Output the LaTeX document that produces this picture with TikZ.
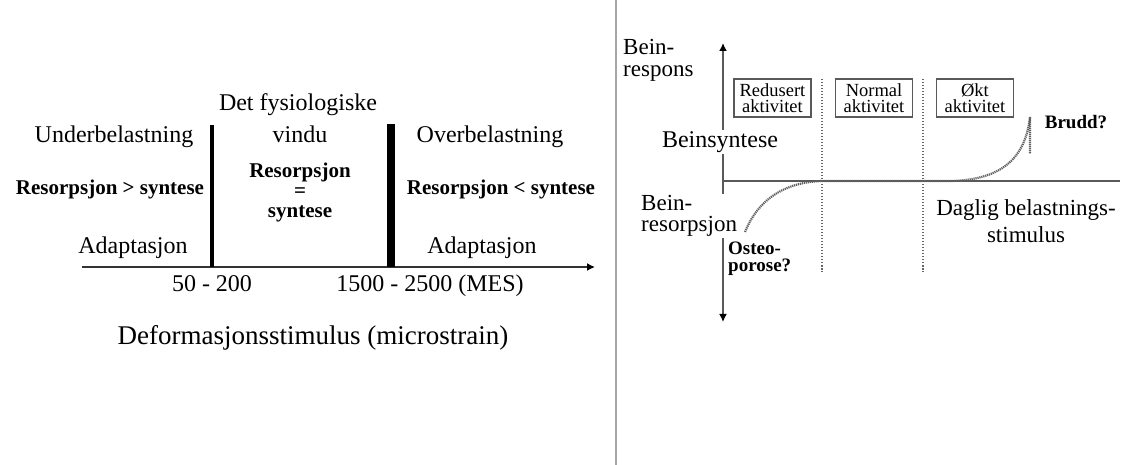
\documentclass[tikz,border=0pt]{standalone}
\usepackage{fontspec}
\setmainfont{Liberation Serif}
\usetikzlibrary{arrows.meta}
\begin{document}
\begin{tikzpicture}[x=1pt,y=-1pt,
  lbl/.style={inner sep=0pt,align=center,font=\fontsize{24}{26}\selectfont},
  blbl/.style={inner sep=0pt,align=center,font=\fontsize{21}{20}\selectfont\bfseries},
  boxlbl/.style={draw=gray!70!black,line width=1.6pt,inner sep=1pt,minimum width=77pt,minimum height=38pt,align=center,font=\fontsize{18.5}{16.5}\selectfont},
  axis/.style={line width=1.5pt,draw=black!80},
  raxis/.style={line width=1.8pt,draw=gray!70!black},
  dotl/.style={line width=1.8pt,draw=gray!80!black,dash pattern=on 1.5pt off 1.5pt},
  curve/.style={line width=2.2pt,draw=gray!75!black,dash pattern=on 1.2pt off 0.8pt},
  tip/.style={-{Latex[length=8pt,width=8pt,color=black]}}
]
\useasboundingbox (0,0) rectangle (1128,465);
% ---------- left panel ----------
\coordinate (ax0) at (82,267);
\coordinate (ax1) at (595,267);
\draw[axis,tip] (ax0) -- (ax1);
\coordinate (t0) at (212,125);
\coordinate (t1) at (212,267);
\draw[line width=3.5pt] (t0) -- (t1);
\coordinate (k0) at (391,124);
\coordinate (k1) at (391,267);
\draw[line width=7.5pt] (k0) -- (k1);
\node[lbl] (det) at (298,105) {Det fysiologiske};
\node[lbl] (vindu) at (300,134) {vindu};
\node[lbl] (under) at (114,137) {Underbelastning};
\node[lbl] (over) at (490,137) {Overbelastning};
\node[blbl] (rs1) at (110,189) {Resorpsjon > syntese};
\node[blbl,font=\fontsize{21}{20}\selectfont\bfseries] (rsm) at (300,192) {Resorpsjon\\=\\syntese};
\node[blbl] (rs2) at (501,189) {Resorpsjon < syntese};
\node[lbl] (ad1) at (133,248) {Adaptasjon};
\node[lbl] (ad2) at (482,248) {Adaptasjon};
\node[lbl,anchor=base] (n1) at (212,292) {50 - 200};
\node[lbl,anchor=base] (n2) at (430,292) {1500 - 2500 (MES)};
\node[inner sep=0pt,font=\fontsize{27}{30}\selectfont] (def) at (313,338) {Deformasjonsstimulus (microstrain)};
% ---------- divider ----------
\coordinate (d0) at (616,0);
\coordinate (d1) at (616,465);
\draw[line width=2pt,gray!70] (d0) -- (d1);
% ---------- right panel ----------
\coordinate (y0) at (723,43);
\coordinate (y1) at (723,322);
\draw[raxis,{Latex[length=8pt,width=8pt,color=black]}-{Latex[length=8pt,width=8pt,color=black]}] (y1) -- (y0);
\coordinate (h0) at (723,181);
\coordinate (h1) at (1120,181);
\draw[raxis] (h0) -- (h1);
\coordinate (v1a) at (822,79);
\coordinate (v1b) at (822,272);
\coordinate (v2a) at (923,79);
\coordinate (v2b) at (923,272);
\draw[dotl] (v1a) -- (v1b);
\draw[dotl] (v2a) -- (v2b);
\node[boxlbl] (red) at (772.5,98) {Redusert\\aktivitet};
\node[boxlbl] (nor) at (874,98) {Normal\\aktivitet};
\node[boxlbl] (okt) at (975,98) {Økt\\aktivitet};
\node[lbl,align=left,anchor=west,font=\fontsize{23}{22}\selectfont] (br) at (623,60) {Bein-\\respons};
\node[lbl,fill=white,inner sep=1pt] (syn) at (720,142) {Beinsyntese};
\node[lbl,align=left,anchor=west,fill=white,inner sep=1pt,font=\fontsize{23}{21}\selectfont] (res) at (640,216) {Bein-\\resorpsjon};
\node[blbl,align=left,anchor=west,font=\fontsize{19}{17}\selectfont\bfseries] (ost) at (728,259) {Osteo-\\porose?};
\node[blbl,font=\fontsize{19}{20}\selectfont\bfseries] (brudd) at (1076,122) {Brudd?};
\node[lbl,font=\fontsize{23}{27}\selectfont] (dag) at (1026,221) {Daglig belastnings-\\stimulus};
\coordinate (c0) at (745,232);
\coordinate (c1) at (822,181);
\coordinate (c2) at (950,181);
\coordinate (c3) at (1030,117);
\coordinate (c4) at (1030,154);
\draw[curve] (c0) .. controls (760,195) and (790,182) .. (c1) -- (c2) .. controls (1000,180) and (1025,160) .. (c3) -- (c4);
\end{tikzpicture}
\end{document}
